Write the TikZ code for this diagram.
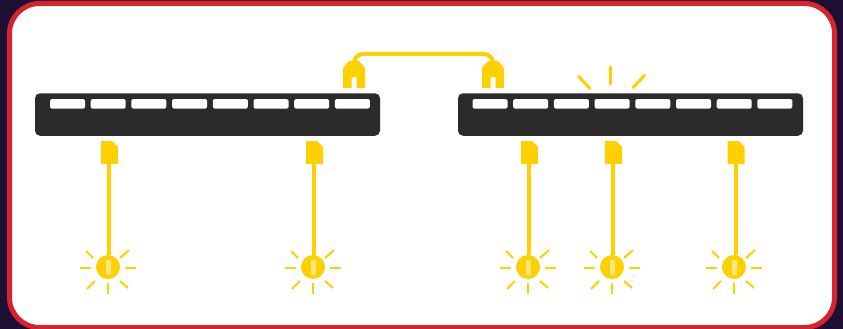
\documentclass[tikz,border=0pt]{standalone}
\usetikzlibrary{positioning, calc}
\definecolor{nightbg}{RGB}{28,15,51}
\definecolor{framered}{RGB}{214,35,47}
\definecolor{switchgray}{RGB}{43,43,43}
\definecolor{cableyellow}{RGB}{255,208,0}
\definecolor{ledpale}{RGB}{255,230,128}

\begin{document}
\begin{tikzpicture}[
  x=1pt, y=-1pt,
  switchbox/.style={fill=switchgray, rounded corners=5pt, minimum width=345pt, minimum height=42.5pt, inner sep=0pt},
  portbox/.style={fill=white, rounded corners=1.5pt, minimum width=35pt, minimum height=9.5pt, inner sep=0pt},
  ledbox/.style={circle, fill=cableyellow, minimum size=24pt, inner sep=0pt},
  ledcore/.style={fill=ledpale, minimum width=5pt, minimum height=15pt, inner sep=0pt},
  wire/.style={draw=cableyellow, line width=4pt},
  ray/.style={draw=cableyellow, line width=2pt},
  bigray/.style={draw=cableyellow, line width=3pt, line cap=round},
  plugdown/.pic={
    \fill[cableyellow] (-8.5,0) -- (2.5,0) -- (8.5,6) -- (8.5,23) -- (-8.5,23) -- cycle;
    \coordinate (-tail) at (-0.5,23);
  },
  plugup/.pic={
    \fill[cableyellow, rounded corners=0.7pt] (-11,0) -- (-11,-20) -- (-5,-27) -- (5,-27) -- (11,-20) -- (11,0)
      -- (2.5,0) -- (2.5,-11) -- (-2.5,-11) -- (-2.5,0) -- cycle;
    \coordinate (-tail) at (0,-24);
  }
]
  \useasboundingbox (0,0) rectangle (843,329);
  \fill[nightbg] (0,0) rectangle (843,329);
  \draw[framered, fill=white, line width=5pt, rounded corners=30pt] (9.5,3.5) rectangle (834.5,327.5);

  % switches
  \node[switchbox] (swleft) at (207.5,114.5) {};
  \node[switchbox] (swright) at (630.5,114.5) {};
  \foreach \i in {0,...,7} {
    \node[portbox] (pl\i) at ({67.5+40.7*\i},103.8) {};
    \node[portbox] (pr\i) at ({490+40.7*\i},103.8) {};
  }

  % link between the switches
  \pic (plugleft) at (354,88) {plugup};
  \pic (plugright) at (493,88) {plugup};
  \coordinate (linktop) at (423,54);
  \draw[wire, rounded corners=9pt] (plugleft-tail) |- (linktop) -| (plugright-tail);

  % activity on the right switch
  \draw[bigray] (610.5,67) -- (610.5,84);
  \draw[bigray] (578.5,76.5) -- (590,88.5);
  \draw[bigray] (644.5,75.5) -- (633,87.5);

  % plugs, cables and leds
  \foreach \n/\px/\lx in {a/109.5/108, b/314.5/313, c/529.5/528, d/613.5/612, e/736/734} {
    \pic (plug\n) at (\px,141) {plugdown};
    \node[ledbox] (led\n) at (\lx,267) {};
    \node[ledcore] (core\n) at (led\n) {};
    \coordinate (top\n) at (\px-0.5,255);
    \draw[wire] (plug\n-tail) -- (top\n);
    \draw[ray] (\lx-28,268) -- (\lx-17,268);
    \draw[ray] (\lx+17,268) -- (\lx+28,268);
    \draw[ray] (\lx,283) -- (\lx,294);
    \draw[ray] (\lx-22,251) -- (\lx-15,258);
    \draw[ray] (\lx+12,258) -- (\lx+21,250);
    \draw[ray] (\lx-21,289) -- (\lx-13,281);
    \draw[ray] (\lx+12,281) -- (\lx+20,288);
  }
\end{tikzpicture}
\end{document}
